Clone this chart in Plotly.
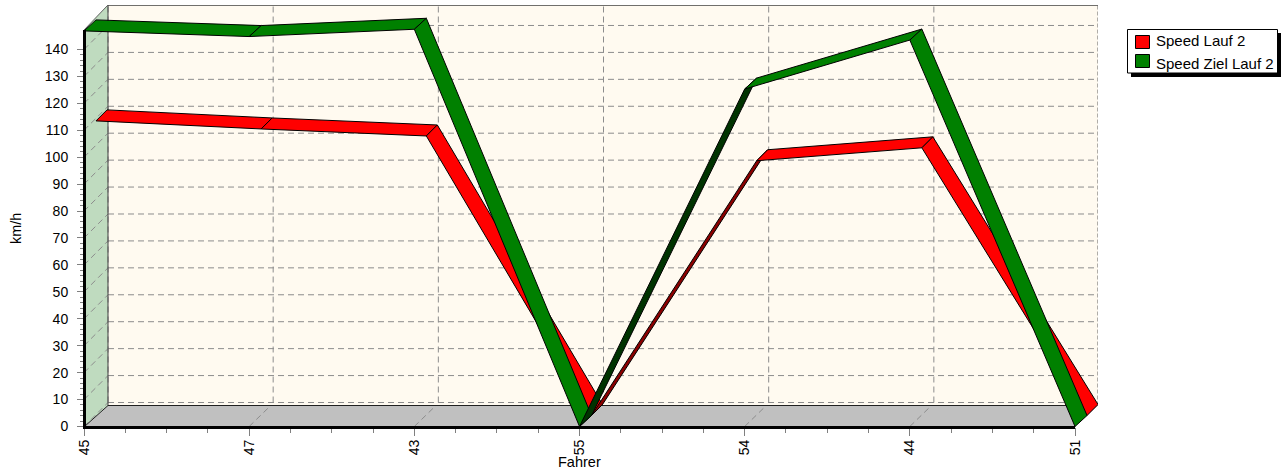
import plotly.graph_objects as go

categories = ["45", "47", "43", "55", "54", "44", "51"]
speed_lauf = [109.4, 106.4, 103.8, 0, 94.6, 99.4, 0]
speed_ziel = [146.9, 144.8, 147.5, 0, 125.3, 143.5, 0]
y_major = [0, 10, 20, 30, 40, 50, 60, 70, 80, 90, 100, 110, 120, 130, 140]

RED, RED_DARK = "#FF0000", "#8B0000"
GREEN, GREEN_DARK = "#008000", "#003300"
WALL_BACK, WALL_LEFT, FLOOR = "#FFFAF0", "#BFDBBF", "#C0C0C0"
GRID = "#8C8C8C"
FONT = "Liberation Sans"

W, H = 1281, 470
L, R, T, B = 84, 1098, 5, 427          # plot area in px
PX_X = 165.17                           # px per category
PX_Y = 2.693                            # px per km/h
Y0_PX = 426.5
y_lo = (Y0_PX - B) / PX_Y
y_hi = (Y0_PX - T) / PX_Y
x_hi = (R - L) / PX_X
ddx = lambda px: px / PX_X
ddy = lambda px: px / PX_Y
y_top_front = (Y0_PX - 30) / PX_Y
y_floor_back = (Y0_PX - 405.5) / PX_Y

fig = go.Figure()


def poly(xs, ys, fill, line=None, width=1):
    fig.add_trace(go.Scatter(x=xs, y=ys, mode="lines", fill="toself", fillcolor=fill,
                             line=dict(color=line or fill, width=width if line else 0),
                             hoverinfo="skip", showlegend=False))


def lines(xs, ys, color, width=1, dash="solid"):
    fig.add_trace(go.Scatter(x=xs, y=ys, mode="lines", line=dict(color=color, width=width, dash=dash),
                             hoverinfo="skip", showlegend=False, cliponaxis=False))


D = ddx(24)
DV = ddy(24)
# walls
poly([D, x_hi, x_hi, D, D], [y_floor_back, y_floor_back, y_hi, y_hi, y_floor_back], WALL_BACK)
poly([0, D, D, 0, 0], [y_lo, y_floor_back, y_hi, y_top_front, y_lo], WALL_LEFT)
poly([0, x_hi - D, x_hi, D, 0], [y_lo, y_lo, y_floor_back, y_floor_back, y_lo], FLOOR)

# grid on the back wall and its diagonals on the side wall / floor
dash = "6px,4px"
gx, gy = [], []
for v in y_major:
    gx += [D, x_hi, None]
    gy += [v + DV, v + DV, None]
for i in range(len(categories)):
    gx += [i + D, i + D, None]
    gy += [DV, y_hi, None]
lines(gx, gy, GRID, 1, dash)
dx_, dy_ = [], []
for v in y_major:
    dx_ += [0, D, None]
    dy_ += [v, v + DV, None]
for i in range(1, len(categories) - 1):
    dx_ += [i, i + D * 0.9, None]
    dy_ += [0, y_floor_back, None]
lines(dx_, dy_, GRID, 1, dash)

# frame
lines([D, D], [y_floor_back, y_hi], "#404040", 1)
lines([D, x_hi], [y_hi, y_hi], "#404040", 1.5)
lines([x_hi, x_hi], [y_floor_back, y_hi], "#606060", 1, "4px,2px")
lines([0, D], [y_top_front, y_hi], "#606060", 1)
lines([D, x_hi - D], [y_floor_back, y_floor_back], "#202020", 1)
lines([0, D], [y_lo, y_floor_back], "#202020", 1)


def ribbon(vals, near, far, color, dark):
    """near / far are (dx, dy) depth offsets in px of the ribbon edges."""
    nx, ny = ddx(near[0]), ddy(near[1])
    fx, fy = ddx(far[0]), ddy(far[1])
    for i in range(len(vals) - 1):
        fill = dark if (vals[i] == 0 and vals[i + 1] > 0) else color
        xs = [i + nx, i + 1 + nx, i + 1 + fx, i + fx, i + nx]
        ys = [vals[i] + ny, vals[i + 1] + ny, vals[i + 1] + fy, vals[i] + fy, vals[i] + ny]
        poly(xs, ys, fill, "#000000", 1)


ribbon(speed_lauf, (12, 11), (23, 22), RED, RED_DARK)
ribbon(speed_ziel, (0, 0), (12, 11), GREEN, GREEN_DARK)

# legend entries (text from the real legend, swatches painted in the box below)
for name, c in (("Speed Lauf 2", "rgba(255,0,0,0)"), ("Speed Ziel Lauf 2", "rgba(0,128,0,0)")):
    fig.add_trace(go.Scatter(x=[None], y=[None], mode="markers", name=name,
                             marker=dict(symbol="square", size=10, color=c, line=dict(width=0))))


def px_x(p):
    return (p - L) / (R - L)


def px_y(p):
    return (B - p) / (B - T)


def rect(x0, y0, x1, y1, fill, line=None):
    return dict(type="rect", xref="paper", yref="paper", x0=px_x(x0), x1=px_x(x1), y0=px_y(y0), y1=px_y(y1),
                fillcolor=fill, line=dict(color=line or fill, width=1 if line else 0), layer="above")


x_last = L + (len(categories) - 1) * PX_X
shapes = [
    rect(1131, 33, 1281, 77, "#000000"),
    rect(1127.5, 29.5, 1277.5, 73, "#FFFFFF", "#000000"),
    rect(1135.5, 35.5, 1149.5, 48.5, RED, "#000000"),
    rect(1135.5, 54.5, 1149.5, 67.5, GREEN, "#000000"),
    rect(83, 30, 86, 428, "#000000"),
    rect(83, 426, x_last, 429, "#000000"),
]

fig.update_layout(
    width=W, height=H, autosize=False,
    margin=dict(l=L, r=W - R, t=T, b=H - B, pad=0),
    paper_bgcolor="#FFFFFF", plot_bgcolor="#FFFFFF",
    font=dict(family=FONT, size=14, color="#000000"),
    showlegend=True,
    legend=dict(xref="container", yref="container", x=1116 / W, y=1 - 24 / H, xanchor="left", yanchor="top",
                bgcolor="rgba(0,0,0,0)", borderwidth=0, font=dict(family=FONT, size=15, color="#000000"),
                itemclick=False, itemdoubleclick=False),
    shapes=shapes,
    annotations=[
        dict(text="Fahrer", xref="x", yref="paper", x=3, y=px_y(462), xanchor="center", yanchor="middle",
             showarrow=False, font=dict(family=FONT, size=14.5)),
        dict(text="km/h", xref="paper", yref="paper", x=px_x(16), y=px_y(229), xanchor="center", yanchor="middle",
             textangle=-90, showarrow=False, font=dict(family=FONT, size=14.5)),
    ],
    xaxis=dict(range=[0, x_hi], tickmode="array", tickvals=list(range(len(categories))), ticktext=categories,
               tickangle=-90, ticks="outside", ticklen=8, tickcolor="#808080", showgrid=False, zeroline=False,
               showline=False, tickfont=dict(family=FONT, size=14), ticklabelstandoff=-2,
               minor=dict(tickmode="array", tickvals=[i * 0.25 for i in range(25)], ticks="outside", ticklen=5,
                          tickcolor="#808080", showgrid=False)),
    yaxis=dict(range=[y_lo, y_hi], tickmode="array", tickvals=y_major, ticks="outside", ticklen=6,
               tickcolor="#808080", showgrid=False, zeroline=False, showline=False,
               tickfont=dict(family=FONT, size=14), ticklabelstandoff=6,
               minor=dict(tickmode="array", tickvals=[v * 2 for v in range(71)], ticks="outside", ticklen=3,
                          tickcolor="#808080", showgrid=False)),
)

fig.write_html("out.html", config=dict(displayModeBar=False),
               post_script="document.body.style.margin='0';document.body.style.overflow='hidden';")
